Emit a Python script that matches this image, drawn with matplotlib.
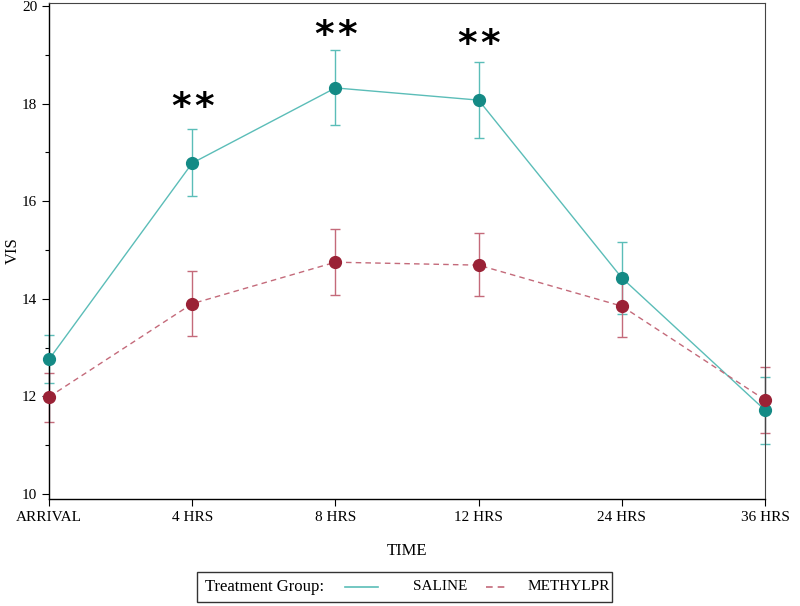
import matplotlib
matplotlib.use("Agg")
import matplotlib.pyplot as plt
from matplotlib.lines import Line2D
from matplotlib.patches import Rectangle

plt.rcParams["font.family"] = ["Liberation Serif", "DejaVu Serif"]

times = ["ARRIVAL", "4 HRS", "8 HRS", "12 HRS", "24 HRS", "36 HRS"]

saline_mean = [12.76, 16.78, 18.32, 18.07, 14.43, 11.72]
saline_low = [12.27, 16.10, 17.57, 17.30, 13.69, 11.03]
saline_high = [13.25, 17.48, 19.09, 18.85, 15.17, 12.40]

methyl_mean = [11.99, 13.90, 14.75, 14.69, 13.85, 11.93]
methyl_low = [11.48, 13.24, 14.08, 14.06, 13.22, 11.25]
methyl_high = [12.48, 14.57, 15.44, 15.34, 14.50, 12.60]

star_pos = [1, 2, 3]
star_y = [18.07, 19.55, 19.36]

teal_dark = "#148a85"
teal_line = "#5bbdb8"
red_dark = "#9a2236"
red_line = "#c46a7a"

fig = plt.figure(figsize=(8, 6.06), dpi=100)
ax = fig.add_axes([0.06125, 0.1766, 0.895, 0.8185])

x = list(range(len(times)))


def draw_group(mean, low, high, line_color, mark_color, ls):
    err = [[m - l for m, l in zip(mean, low)], [h - m for m, h in zip(mean, high)]]
    eb = ax.errorbar(x, mean, yerr=err, fmt="none", ecolor=line_color,
                     elinewidth=1.0, capsize=3.6, capthick=1.0)
    for part in eb.lines[1]:
        part.set_clip_on(False)
    for part in eb.lines[2]:
        part.set_clip_on(False)
    ax.plot(x, mean, color=line_color, linestyle=ls, linewidth=1.0, clip_on=False)
    ax.plot(x, mean, linestyle="none", marker="o", markersize=8.5,
            color=mark_color, clip_on=False, zorder=5)


draw_group(saline_mean, saline_low, saline_high, teal_line, teal_dark, "-")
draw_group(methyl_mean, methyl_low, methyl_high, red_line, red_dark, (0, (4, 3)))

# significance stars, two separate asterisks per point
for xs, ys in zip(star_pos, star_y):
    for dx in (-11.5, 11.5):
        ax.annotate("*", (xs, ys), xytext=(dx, -8), textcoords="offset pixels",
                    ha="center", va="center", fontsize=27, fontweight="bold",
                    family=["DejaVu Sans"], color="black")

ax.set_xlim(0, 5)
ax.set_ylim(9.9, 20.06)
ax.set_xticks(x)
ax.set_xticklabels(times, fontsize=11)
ax.set_yticks([10, 12, 14, 16, 18, 20])
ax.set_yticks([11, 13, 15, 17, 19], minor=True)
ax.tick_params(axis="both", which="major", length=5, width=0.8, labelsize=11)
ax.tick_params(axis="y", which="minor", length=3, width=0.8)
for side in ["left", "bottom"]:
    ax.spines[side].set_linewidth(1.0)
for side in ["top", "right"]:
    ax.spines[side].set_linewidth(0.8)
    ax.spines[side].set_color("#444444")

ax.set_xlabel("TIME", fontsize=12, labelpad=14)
ax.set_ylabel("VIS", fontsize=12)
ax.yaxis.set_label_coords(-0.040, 0.5)

# legend box
fig.add_artist(Rectangle((197 / 800, 1 - 602 / 606), 415 / 800, 30 / 606,
                         transform=fig.transFigure, fill=False,
                         edgecolor="#333333", linewidth=1.0))
ly = 1 - 587 / 606
fig.text(205 / 800, ly, "Treatment Group:", fontsize=12, va="center")
fig.add_artist(Line2D([345 / 800, 378 / 800], [ly, ly], transform=fig.transFigure,
                      color=teal_line, linewidth=1.2))
fig.text(413 / 800, ly, "SALINE", fontsize=11, va="center")
fig.add_artist(Line2D([486 / 800, 506 / 800], [ly, ly], transform=fig.transFigure,
                      color=red_line, linewidth=1.2, linestyle=(0, (4, 3))))
fig.text(528 / 800, ly, "METHYLPR", fontsize=11, va="center")

fig.savefig("out.png", dpi=100)
